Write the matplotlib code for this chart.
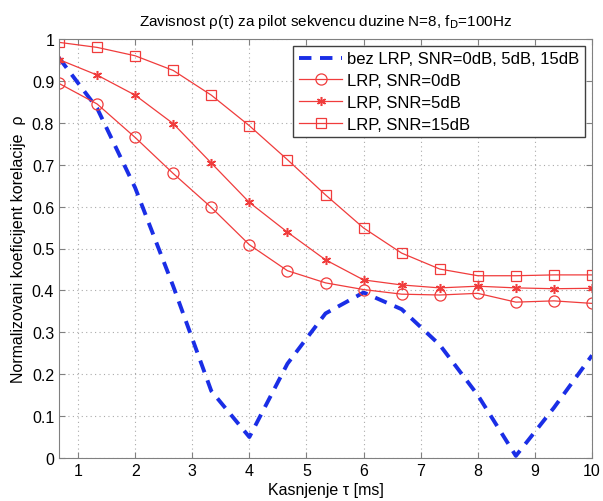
import matplotlib.pyplot as plt

plt.rcParams['font.family'] = ['Liberation Sans', 'DejaVu Sans']

# kasnjenje tau [ms], korak 2/3 ms
tau = [2 / 3 * k for k in range(1, 16)]

bez_lrp = [0.955, 0.835, 0.645, 0.41, 0.16, 0.05, 0.225, 0.345, 0.395,
           0.355, 0.27, 0.15, 0.005, 0.12, 0.245]
lrp_0db = [0.894, 0.845, 0.765, 0.679, 0.598, 0.509, 0.447, 0.418, 0.402,
           0.391, 0.389, 0.393, 0.372, 0.375, 0.369]
lrp_5db = [0.951, 0.914, 0.866, 0.798, 0.704, 0.610, 0.539, 0.473, 0.425,
           0.413, 0.406, 0.41, 0.406, 0.404, 0.405]
lrp_15db = [0.992, 0.980, 0.960, 0.925, 0.866, 0.793, 0.712, 0.628, 0.549,
            0.489, 0.451, 0.435, 0.435, 0.437, 0.437]

fig = plt.figure(figsize=(6.03, 5.02), dpi=100)
ax = fig.add_axes([59 / 603, 43 / 502, 533 / 603, 419 / 502])

red = '#f03c3c'
ax.plot(tau, bez_lrp, '--', color='#1a2ee6', lw=2.8, dashes=(3.2, 2.2),
        label='bez LRP, SNR=0dB, 5dB, 15dB')
ax.plot(tau, lrp_0db, '-o', color=red, lw=0.9, ms=8, mfc='none', mew=0.9,
        label='LRP, SNR=0dB')
ax.plot(tau, lrp_5db, '-', marker=(6, 2, 0), color=red, lw=0.9, ms=6.5,
        mew=1.1, label='LRP, SNR=5dB')
ax.plot(tau, lrp_15db, '-s', color=red, lw=0.9, ms=7, mfc='none', mew=0.9,
        label='LRP, SNR=15dB')

ax.set_xlim(2 / 3, 10)
ax.set_ylim(0, 1)
ax.set_xticks(range(1, 11))
ax.set_yticks([0, 0.1, 0.2, 0.3, 0.4, 0.5, 0.6, 0.7, 0.8, 0.9, 1])
ax.set_yticklabels(['0', '0.1', '0.2', '0.3', '0.4', '0.5', '0.6', '0.7',
                    '0.8', '0.9', '1'])
ax.tick_params(direction='in', top=True, right=True, labelsize=11.5,
               color='#808080', length=4)
for s in ax.spines.values():
    s.set_color('#808080')
ax.grid(True, linestyle=(0, (1, 3)), color='#aaaaaa', lw=0.8)

ax.set_title(r'Zavisnost ρ(τ) za pilot sekvencu duzine N=8, f$_{\mathrm{D}}$=100Hz',
             fontsize=11, pad=10)
ax.set_xlabel('Kasnjenje τ [ms]', fontsize=11.5, labelpad=3)
ax.set_ylabel('Normalizovani koeficijent korelacije  ρ', fontsize=11.5, labelpad=4)

leg = ax.legend(loc='upper right', fontsize=12, fancybox=False, framealpha=1,
                edgecolor='#404040', borderaxespad=0.4, handlelength=2.6,
                handletextpad=0.3, labelspacing=0.4, borderpad=0.35)
leg.get_frame().set_linewidth(1.0)

fig.savefig('out.png', dpi=100)
